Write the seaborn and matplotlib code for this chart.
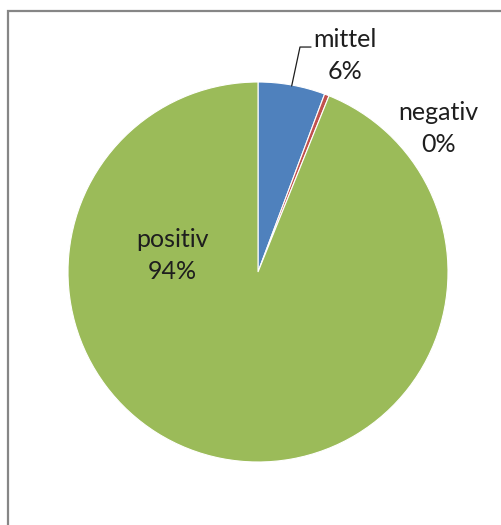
import numpy as np
import matplotlib
matplotlib.use("Agg")
import matplotlib.pyplot as plt
import seaborn as sns
from matplotlib.patches import Rectangle

# data
labels = ["mittel", "negativ", "positiv"]
values = [5.7, 0.4, 93.9]
shown = ["6%", "0%", "94%"]
colors = ["#4F81BD", "#C0504D", "#9BBB59"]

sns.set_theme(style="white")
plt.rcParams['font.family'] = ['Lato', 'DejaVu Sans']

fig = plt.figure(figsize=(5.01, 5.25), dpi=100)
W, H = 501, 525
cx, cy, r = 258, 272, 190
ax = fig.add_axes([(cx - r) / W, (H - cy - r) / H, 2 * r / W, 2 * r / H])

wedges, _ = ax.pie(values, colors=colors, startangle=90, counterclock=False,
                   radius=1, wedgeprops={'linewidth': 0.8, 'edgecolor': 'white'})
ax.set_xlim(-1, 1)
ax.set_ylim(-1, 1)
ax.set_aspect('equal')
ax.axis('off')

# data labels: name on first line, percent below (baseline positions)
lab_pos = [(0.459, 1.184), (0.951, 0.80), (-0.452, 0.132)]
gap = 0.168
for lab, pct, (x, y) in zip(labels, shown, lab_pos):
    ax.text(x, y, lab, ha='center', va='baseline', fontsize=18,
            color='#1e1e1e', clip_on=False)
    ax.text(x, y - gap, pct, ha='center', va='baseline', fontsize=18,
            color='#1e1e1e', clip_on=False)

# leader line for "mittel"
w = wedges[0]
mid = np.deg2rad((w.theta1 + w.theta2) / 2)
ax.plot([0.279, 0.221, np.cos(mid) * 0.995], [1.184, 1.184, np.sin(mid) * 0.995],
        color='#1e1e1e', lw=0.9, clip_on=False)

# chart area frame (only top/left visible in the crop)
fig.add_artist(Rectangle((8 / W, -0.1), 1.2, 1 - 11 / H + 0.1, transform=fig.transFigure,
                         fill=False, edgecolor='#868686', lw=1.6))

fig.savefig("out.png", dpi=100)
